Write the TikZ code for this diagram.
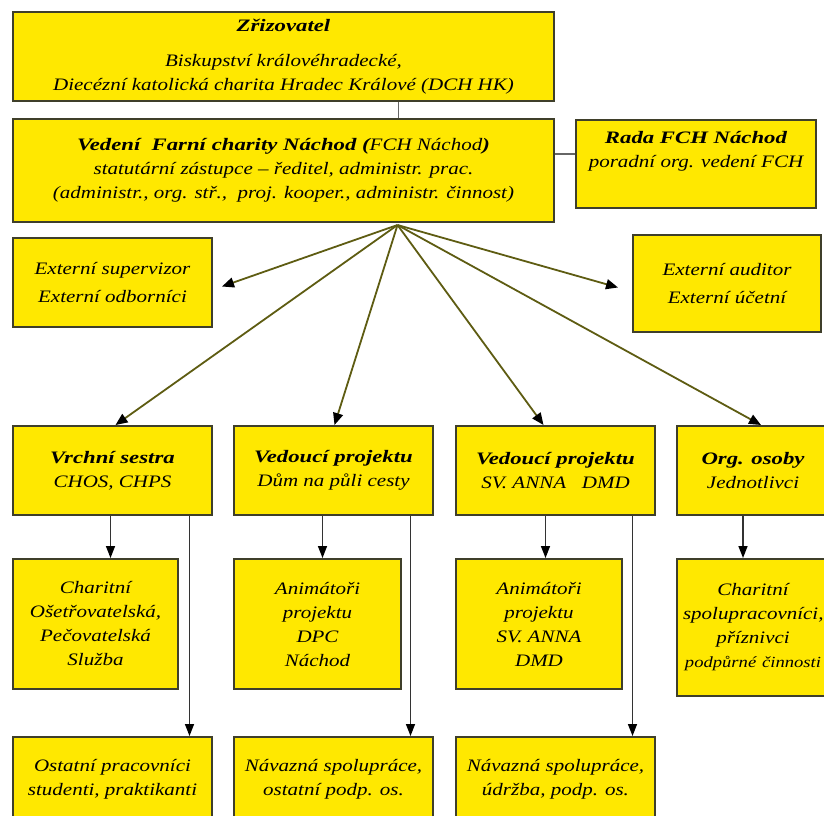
\documentclass[tikz,border=0pt]{standalone}
\usepackage{fontspec}
\setmainfont{Liberation Serif}[FakeStretch=1.2,BoldItalicFeatures={FakeStretch=1.3}]
\usetikzlibrary{arrows.meta,positioning,calc}
\definecolor{boxfill}{HTML}{FFE800}
\definecolor{boxline}{HTML}{3F3F2A}
\definecolor{fanline}{HTML}{5E5C12}

\begin{document}
\begin{tikzpicture}[x=1pt,y=-1pt,
  orgbox/.style={draw=boxline,fill=boxfill,line width=2pt,anchor=north west,align=center,inner sep=3pt,
    font=\fontsize{17.5}{24}\selectfont\itshape},
  fan/.style={fanline,line width=1.8pt,-{Triangle[length=12pt,width=10pt,color=black]}},
  down/.style={black!80,line width=1.5pt,-{Triangle[length=12pt,width=9pt,color=black]}},
  plain/.style={black!60,line width=1.5pt}]
  \clip (0,0) rectangle (824,815);
  % top level
  \node[orgbox,minimum width=541pt,minimum height=89pt] (zriz) at (12,11)
    {\textbf{Zřizovatel}\\[11pt]Biskupství královéhradecké,\\Diecézní katolická charita Hradec Králové (DCH HK)};
  \node[orgbox,minimum width=541pt,minimum height=103pt] (vedeni) at (12,118)
    {\textbf{Vedení\ \ Farní charity Náchod (}FCH Náchod\textbf{)}\\statutární zástupce – ředitel, administr. prac.\\(administr., org. stř.,\ \ proj. kooper., administr. činnost)};
  \node[orgbox,minimum width=240pt,minimum height=88pt] (rada) at (575,119)
    {\textbf{Rada FCH Náchod}\\poradní org. vedení FCH\\[6pt]};
  \node[orgbox,minimum width=199pt,minimum height=89pt] (extsup) at (12,237)
    {Externí supervizor\\[4pt]Externí odborníci};
  \node[orgbox,minimum width=188pt,minimum height=97pt] (extaud) at (632,234)
    {Externí auditor\\[4pt]Externí účetní};
  % first row
  \foreach \n/\x/\w/\t in {a/12/199/{\textbf{Vrchní sestra}\\CHOS, CHPS},
      b/233/199/{\textbf{Vedoucí projektu}\\Dům na půli cesty},
      c/455/199/{\textbf{Vedoucí projektu}\\SV. ANNA\ \ \ DMD},
      d/676/152/{\textbf{Org. osoby}\\Jednotlivci}}
    \node[orgbox,minimum width=\w pt,minimum height=89pt] (r1\n) at (\x,425) {\t};
  % second row
  \node[orgbox,minimum width=165pt,minimum height=130pt] (r2a) at (12,558)
    {Charitní\\Ošetřovatelská,\\Pečovatelská\\Služba};
  \node[orgbox,minimum width=167pt,minimum height=130pt] (r2b) at (233,558)
    {Animátoři\\projektu\\DPC\\Náchod};
  \node[orgbox,minimum width=166pt,minimum height=130pt] (r2c) at (455,558)
    {Animátoři\\projektu\\SV. ANNA\\DMD};
  \node[orgbox,minimum width=152pt,minimum height=137pt,text width=140pt] (r2d) at (676,558)
    {Charitní\\spolupracovníci,\\příznivci\\\mbox{\fontsize{15.5}{24}\selectfont\itshape podpůrné činnosti}};
  % third row
  \foreach \n/\x/\t in {a/12/{Ostatní pracovníci\\studenti, praktikanti},
      b/233/{Návazná spolupráce,\\ostatní podp. os.},
      c/455/{Návazná spolupráce,\\údržba, podp. os.}}
    \node[orgbox,minimum width=199pt,minimum height=84pt] (r3\n) at (\x,736) {\t};
  % connectors
  \draw[plain] ([xshift=115pt]zriz.south) -- ([xshift=115pt]vedeni.north);
  \draw[plain] ([yshift=10pt]rada.west) -- ([yshift=10pt]rada.west -| vedeni.east);
  \coordinate (apex) at ([xshift=114pt,yshift=-2pt]vedeni.south);
  \draw[fan] (apex) -- ([xshift=9pt,yshift=-4pt]extsup.east);
  \draw[fan] (apex) -- ([xshift=-14pt,yshift=-4pt]extaud.west);
  \foreach \n/\s in {a/3,b/1,c/-12,d/8}
    \draw[fan] (apex) -- ([xshift=\s pt]r1\n.north);
  \foreach \n/\s in {a/-2,b/-11,c/-10,d/-10}
    \draw[down] ([xshift=\s pt]r1\n.south) -- ([xshift=\s pt]r1\n.south |- r2\n.north);
  \foreach \n in {a,b,c}
    \draw[down] ([xshift=77pt]r1\n.south) -- ([xshift=77pt]r1\n.south |- r3\n.north);
\end{tikzpicture}
\end{document}
